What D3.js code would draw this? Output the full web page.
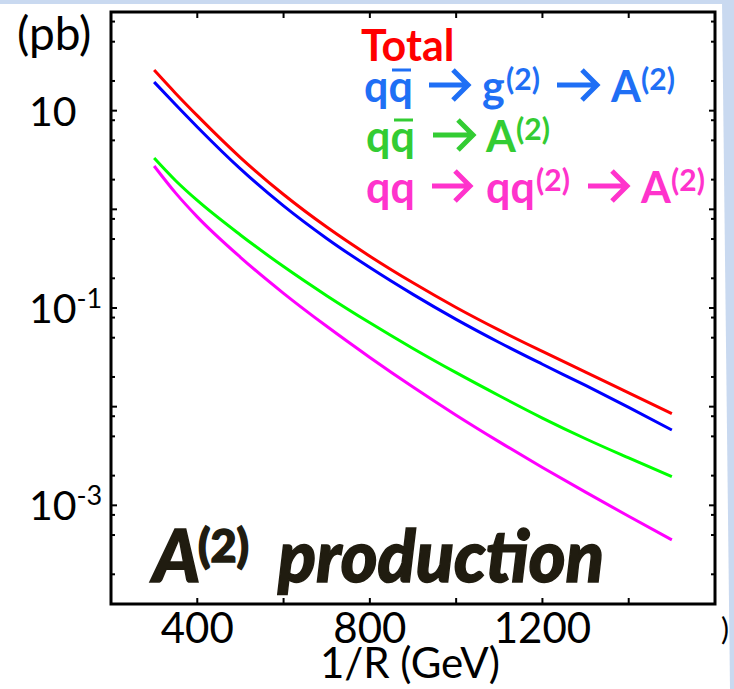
<!DOCTYPE html>
<html><head><meta charset="utf-8">
<script src="https://cdn.jsdelivr.net/npm/d3@7"></script>
<style>body{margin:0;background:#fff}svg{display:block}</style>
</head><body>
<svg id="c" width="734" height="689"></svg>
<script>
// ---- data ----
const massGeV = [300,350,400,500,600,700,800,900,1000,1100,1200,1300,1400,1500];
const total   = [25.8,14.96,8.91,3.35,1.413,0.661,0.335,0.180,0.1012,0.0596,0.0363,0.0224,0.0138,0.00851];
const viaG2   = [19.5,11.48,6.84,2.57,1.084,0.507,0.257,0.1374,0.0767,0.0447,0.0269,0.0164,0.00982,0.0058];
const direct  = [3.31,1.95,1.23,0.550,0.263,0.1334,0.0708,0.0389,0.0221,0.0129,0.00767,0.00473,0.00302,0.00195];
const viaQ2   = [2.75,1.459,0.839,0.3266,0.1409,0.0652,0.03155,0.01581,0.0082,0.0044,0.00242,0.00136,0.000774,0.000446];
const xTickValues = [400,600,800,1000,1200,1400];
const xTickLabels = ["400","","800","","1200",""];
const yMajorExp = [-4,-3,-2,-1,0,1,2];
const yLabelExp = [1,-1,-3];
const yMinorMult = [2,5,8];

const svg = d3.select("#c");
const W=734,H=689;
const L=111,R=715,T=12,B=604;
const x = d3.scaleLinear().domain([200,1600]).range([L,R]);
const y = d3.scaleLog().domain([1e-4,1e2]).range([B,T]);

// slide background strips
svg.append("rect").attr("x",0).attr("y",0).attr("width",W).attr("height",4).attr("fill","#c9d9f0");
svg.append("polygon").attr("points","722,0 734,0 734,689 730,689").attr("fill","#c9d9f0");

const curves = [
  {v:total, c:"#ff0000"},
  {v:viaG2, c:"#0000ff"},
  {v:direct, c:"#00ff00"},
  {v:viaQ2, c:"#ff00ff"}
];
const line = d3.line().x((d,i)=>x(massGeV[i])).y(d=>y(d)).curve(d3.curveMonotoneX);
curves.forEach(s=>{
  svg.append("path").attr("d",line(s.v)).attr("fill","none").attr("stroke",s.c).attr("stroke-width",3);
});

// frame
svg.append("rect").attr("x",L).attr("y",T).attr("width",R-L).attr("height",B-T)
  .attr("fill","none").attr("stroke","#000").attr("stroke-width",3);

// ticks (inward, mirrored)
const g = svg.append("g").attr("stroke","#000").attr("stroke-width",2);
xTickValues.forEach(v=>{
  g.append("line").attr("x1",x(v)).attr("x2",x(v)).attr("y1",B).attr("y2",B-6);
  g.append("line").attr("x1",x(v)).attr("x2",x(v)).attr("y1",T).attr("y2",T+6);
});
yMajorExp.forEach(e=>{
  const yy=y(Math.pow(10,e));
  g.append("line").attr("x1",L).attr("x2",L+6).attr("y1",yy).attr("y2",yy);
  g.append("line").attr("x1",R).attr("x2",R-6).attr("y1",yy).attr("y2",yy);
  if(e<2) yMinorMult.forEach(m=>{
    const y2=y(m*Math.pow(10,e));
    g.append("line").attr("x1",L).attr("x2",L+4).attr("y1",y2).attr("y2",y2);
    g.append("line").attr("x1",R).attr("x2",R-4).attr("y1",y2).attr("y2",y2);
  });
});

const FONT = "Lato, 'Open Sans', sans-serif";
// x labels
xTickValues.forEach((v,i)=>{
  if(!xTickLabels[i]) return;
  svg.append("text").attr("x",x(v)).attr("y",643).attr("text-anchor","middle")
    .attr("font-family",FONT).attr("font-size",42).attr("fill","#000").text(xTickLabels[i]);
});
svg.append("text").attr("x",410).attr("y",678).attr("text-anchor","middle")
  .attr("font-family",FONT).attr("font-size",42).attr("fill","#000").text("1/R (GeV)");
// y labels
yLabelExp.forEach(e=>{
  const t = svg.append("text").attr("x",29).attr("y",y(Math.pow(10,e))+15)
    .attr("font-family",FONT).attr("font-size",41).attr("fill","#000");
  t.append("tspan").text("10");
  if(e!==1) t.append("tspan").attr("font-size",27).attr("dy",-15).text(String(e));
});
svg.append("text").attr("x",17).attr("y",50).attr("font-family",FONT).attr("font-size",46)
  .attr("fill","#000").text("(pb)");

// legend
const LF=43, SF=30;
function seg(txt,x0,yb,color,sup){
  svg.append("text").attr("x",x0).attr("y",sup?yb-12:yb).attr("font-family",FONT)
    .attr("font-weight",700).attr("font-size",sup?SF:LF).attr("fill",color).text(txt);
}
function arrow(x0,x1,yb,color){
  const cy=yb-17;
  svg.append("path").attr("d",`M${x0},${cy}H${x1-2}M${x1-15},${cy-15}L${x1},${cy}L${x1-15},${cy+15}`)
    .attr("fill","none").attr("stroke",color).attr("stroke-width",5).attr("stroke-linejoin","miter");
}
function bar(x0,x1,yb,color){
  svg.append("line").attr("x1",x0).attr("x2",x1).attr("y1",yb-32).attr("y2",yb-32)
    .attr("stroke",color).attr("stroke-width",3);
}
seg("Total",361,61,"#ff0000");
const cB="#1f6ff5", cG="#33cc33", cP="#ff33cc";
seg("qq",364,102,cB); bar(392,411,102,cB); arrow(429,468,102,cB);
seg("g",482,102,cB); seg("(2)",506,102,cB,true); arrow(557,597,102,cB);
seg("A",611,102,cB); seg("(2)",641,102,cB,true);
seg("qq",366,152,cG); bar(394,413,152,cG); arrow(433,473,152,cG);
seg("A",486,152,cG); seg("(2)",516,152,cG,true);
seg("qq",366,203,cP); arrow(432,470,203,cP);
seg("qq",486,203,cP); seg("(2)",536,203,cP,true); arrow(588,627,203,cP);
seg("A",641,203,cP); seg("(2)",671,203,cP,true);

// A(2) production
const ink="#201c10";
svg.append("text").attr("x",153).attr("y",582).attr("font-family",FONT).attr("font-weight",900)
  .attr("font-style","italic").attr("font-size",72).attr("fill",ink)
  .attr("stroke",ink).attr("stroke-width",1.5).text("A");
svg.append("text").attr("x",198).attr("y",562).attr("font-family",FONT).attr("font-weight",900)
  .attr("font-size",45).attr("fill",ink).attr("stroke",ink).attr("stroke-width",1.5).text("(2)");
svg.append("text").attr("x",278).attr("y",582).attr("font-family",FONT).attr("font-weight",900)
  .attr("font-style","italic").attr("font-size",72).attr("fill",ink)
  .attr("stroke",ink).attr("stroke-width",1.5)
  .attr("textLength",326).attr("lengthAdjust","spacingAndGlyphs").text("production");

svg.append("text").attr("x",721).attr("y",640).attr("font-family",FONT).attr("font-size",30).attr("fill","#000").text(")");
</script>
</body></html>
